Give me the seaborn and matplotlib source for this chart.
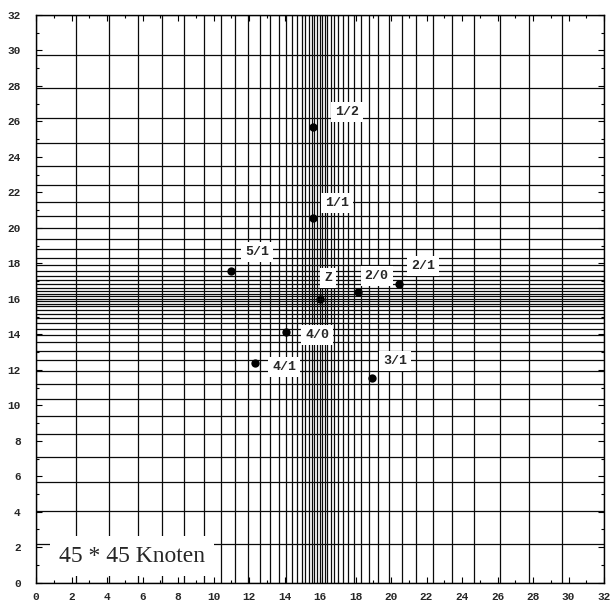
import matplotlib
matplotlib.use("Agg")
import matplotlib.pyplot as plt
from matplotlib.ticker import MultipleLocator
import numpy as np
import pandas as pd
import seaborn as sns

# ---- data ----
x_grid = [0.0, 2.25, 4.13, 5.73, 7.12, 8.36, 9.48, 10.41, 11.23, 11.96, 12.62,
          13.18, 13.67, 14.08, 14.42, 14.72, 14.97, 15.17, 15.36, 15.53, 15.69,
          15.85, 16.0, 16.13, 16.27, 16.42, 16.6, 16.81, 17.03, 17.31, 17.6,
          17.93, 18.31, 18.78, 19.29, 19.9, 20.6, 21.41, 22.36, 23.43, 24.68,
          26.14, 27.8, 29.62, 32.0]
y_grid = [0.0, 2.18, 4.06, 5.69, 7.07, 8.37, 9.41, 10.34, 11.2, 11.93, 12.54,
          13.06, 13.55, 13.95, 14.32, 14.64, 14.92, 15.16, 15.38, 15.57, 15.73,
          15.87, 16.0, 16.14, 16.28, 16.44, 16.62, 16.84, 17.06, 17.29, 17.59,
          17.91, 18.32, 18.79, 19.36, 19.98, 20.69, 21.48, 22.42, 23.51, 24.77,
          26.21, 27.87, 29.75, 32.0]

point_labels = ["1/2", "1/1", "5/1", "Z", "2/0", "2/1", "3/1", "4/0", "4/1"]
point_x = [15.62, 15.59, 10.99, 16.0, 18.16, 20.47, 18.91, 14.07, 12.34]
point_y = [25.70, 20.54, 17.59, 16.0, 16.40, 16.84, 11.52, 14.11, 12.37]

tick_values = list(range(0, 33, 2))
title_text = "45 * 45 Knoten"

# ---- style ----
sns.set_style("white")
plt.rcParams["font.family"] = ["Liberation Mono", "DejaVu Sans"]

fig = plt.figure(figsize=(6.11, 6.03), dpi=100)
ax = fig.add_axes([36 / 611, 1 - 582.7 / 603, 568 / 611, 567.7 / 603])

ax.vlines(x_grid, 0, 32, colors="#0a0a0a", linewidth=0.9, zorder=1)
ax.hlines(y_grid, 0, 32, colors="#0a0a0a", linewidth=0.9, zorder=1)

df = pd.DataFrame({"x": point_x, "y": point_y, "label": point_labels})
sns.scatterplot(data=df, x="x", y="y", color="black", s=36, linewidth=0,
                ax=ax, zorder=4, legend=False)

offsets = {"1/2": (24, 10.8), "1/1": (17.3, 10.8), "5/1": (18.9, 13.2),
           "Z": (6, 14.9), "2/0": (13.2, 11.5), "2/1": (17.3, 13.2),
           "3/1": (16.8, 12.7), "4/0": (22.8, -1.9), "4/1": (21.1, -2.4)}
for lbl, px, py in zip(point_labels, point_x, point_y):
    ax.annotate(lbl, (px, py), xytext=offsets[lbl], textcoords="offset points",
                ha="center", va="center", fontsize=9.5, fontweight="bold",
                family=["Liberation Mono", "DejaVu Sans"],
                bbox=dict(boxstyle="square,pad=0.3", fc="white", ec="none"),
                zorder=5)

ax.text(0.0405, 0.047, title_text, transform=ax.transAxes, ha="left",
        va="center", fontsize=17, family=["Liberation Serif", "DejaVu Serif"],
        bbox=dict(boxstyle="square,pad=0.4", fc="white", ec="none"), zorder=6)

ax.set_xlim(0, 32)
ax.set_ylim(0, 32)
ax.set_xticks(tick_values)
ax.set_yticks(tick_values)
ax.xaxis.set_minor_locator(MultipleLocator(1))
ax.yaxis.set_minor_locator(MultipleLocator(1))
ax.tick_params(which="both", direction="in", top=True, right=True,
               bottom=True, left=True, color="black", width=0.8)
ax.tick_params(which="major", length=4.5)
ax.tick_params(which="minor", length=2.5)
ax.tick_params(axis="x", which="major", pad=7, labelsize=8)
ax.tick_params(axis="y", which="major", pad=11, labelsize=8)
for lab in ax.get_xticklabels() + ax.get_yticklabels():
    lab.set_fontweight("bold")
ax.set_xlabel("")
ax.set_ylabel("")
for sp in ax.spines.values():
    sp.set_visible(True)
    sp.set_color("black")
    sp.set_linewidth(1.0)

fig.savefig("out.png", dpi=100)
